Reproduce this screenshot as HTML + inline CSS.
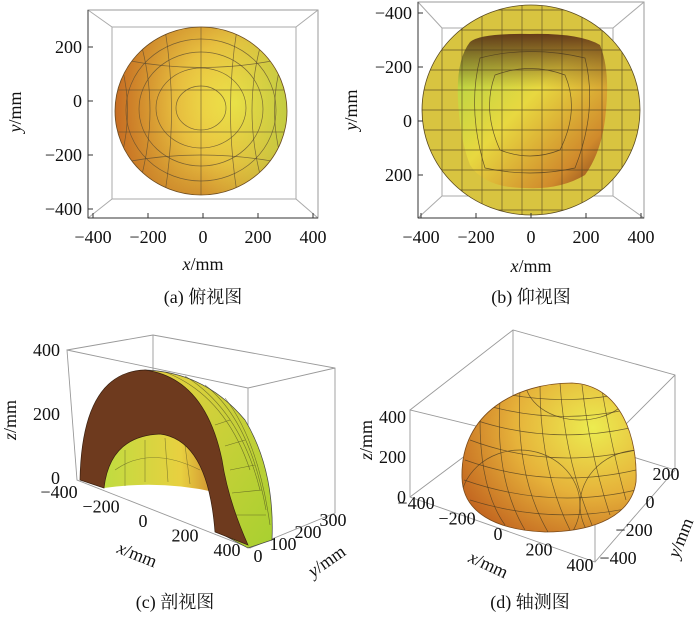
<!DOCTYPE html>
<html><head><meta charset="utf-8">
<style>
html,body{margin:0;padding:0;background:#fff;}
svg{display:block;}
text{font-family:"Liberation Serif","Noto Serif CJK SC",serif;font-size:18px;fill:#111;}
.cap{font-family:"Liberation Serif","Noto Serif CJK SC",serif;font-size:18px;}
</style></head>
<body>
<svg id="fig" width="700" height="628" viewBox="0 0 700 628">
<defs>
<radialGradient id="gA" cx="0.7" cy="0.45" r="0.8">
<stop offset="0" stop-color="#f0e84a"/><stop offset="0.45" stop-color="#e8c040"/><stop offset="1" stop-color="#b8601c"/>
</radialGradient>
<linearGradient id="gAside" x1="0" x2="1" y1="0" y2="0">
<stop offset="0" stop-color="#c86a22" stop-opacity="0.8"/><stop offset="0.5" stop-color="#e9c640" stop-opacity="0"/><stop offset="1" stop-color="#a8d040" stop-opacity="0.6"/>
</linearGradient>
<linearGradient id="gB" x1="0" x2="1" y1="0" y2="1">
<stop offset="0" stop-color="#a8d444"/><stop offset="0.45" stop-color="#e8d840"/><stop offset="0.8" stop-color="#d08a2c"/><stop offset="1" stop-color="#7a3a1a"/>
</linearGradient>
<linearGradient id="gBtop" x1="0" x2="0" y1="0" y2="1">
<stop offset="0" stop-color="#5a2a14" stop-opacity="0.9"/><stop offset="0.35" stop-color="#5a2a14" stop-opacity="0"/>
</linearGradient>
<linearGradient id="gC" x1="0" x2="1" y1="0" y2="1">
<stop offset="0" stop-color="#e8d040"/><stop offset="1" stop-color="#a8d030"/>
</linearGradient>
<linearGradient id="gCin" x1="0" x2="1" y1="0" y2="0">
<stop offset="0" stop-color="#c0dc40"/><stop offset="0.7" stop-color="#e8d040"/><stop offset="1" stop-color="#d09030"/>
</linearGradient>
<radialGradient id="gD" cx="0.75" cy="0.3" r="0.9">
<stop offset="0" stop-color="#ecec50"/><stop offset="0.5" stop-color="#e6b23a"/><stop offset="1" stop-color="#c0601e"/>
</radialGradient>
<clipPath id="clipA"><ellipse cx="201" cy="111" rx="86" ry="84"/></clipPath>
<clipPath id="clipB"><ellipse cx="531" cy="110" rx="109" ry="105"/></clipPath>
<clipPath id="clipD"><path d="M462,478 C460,412 518,383 572,383 C622,385 638,440 636,482 C630,522 582,532 545,532 C495,530 463,512 462,478 Z"/></clipPath>
</defs>

<!-- Panel (a) -->
<g>
<rect x="88" y="10" width="230" height="208" fill="none" stroke="#999" stroke-width="1"/>
<rect x="112" y="27" width="184" height="172" fill="none" stroke="#aaa" stroke-width="1"/>
<path d="M88,10L112,27M318,10L296,27M88,218L112,199M318,218L296,199" stroke="#aaa"/>
<ellipse cx="201" cy="111" rx="86" ry="84" fill="url(#gA)"/>
<ellipse cx="201" cy="111" rx="86" ry="84" fill="url(#gAside)"/>
<g clip-path="url(#clipA)" fill="none" stroke="#5a4a30" stroke-width="0.7" stroke-opacity="0.75">
<ellipse cx="201" cy="108" rx="25" ry="22"/><ellipse cx="201" cy="108" rx="45" ry="40"/><ellipse cx="201" cy="109" rx="62" ry="57"/><ellipse cx="201" cy="110" rx="75" ry="71"/>
<path d="M201,27V195M140,40Q160,110 140,182M262,40Q242,110 262,182M120,60Q135,110 120,162M282,60Q267,110 282,162M165,29Q178,110 165,193M237,29Q224,110 237,193"/>
<path d="M115,90H287M115,132H287M125,60Q201,75 277,60M125,162Q201,148 277,162"/>
</g>
<ellipse cx="201" cy="111" rx="86" ry="84" fill="none" stroke="#6a4a20" stroke-width="0.8"/>
<path d="M88,218H318" stroke="#333"/>
<path d="M88,10V218" stroke="#333"/>
<g id="a-ticks"></g>
<text x="203" y="270" text-anchor="middle"><tspan font-style="italic">x</tspan>/mm</text>
<text transform="translate(21,112) rotate(-90)" text-anchor="middle"><tspan font-style="italic">y</tspan>/mm</text>
<text class="cap" x="203" y="303" text-anchor="middle">(a) 俯视图</text>
</g>

<!-- Panel (b) -->
<g>
<rect x="418" y="2" width="226" height="216" fill="none" stroke="#999"/>
<rect x="442" y="28" width="171" height="168" fill="none" stroke="#aaa"/>
<path d="M418,2L442,28M644,2L613,28M418,218L442,196M644,218L613,196" stroke="#aaa"/>
<ellipse cx="531" cy="110" rx="109" ry="105" fill="#d8c440" stroke="#5a4a20" stroke-width="0.8"/>
<path d="M470,42 Q480,33 530,34 Q580,33 600,45 Q610,70 606,110 Q603,150 585,175 Q560,190 525,188 Q485,188 470,165 Q460,140 458,100 Q456,60 470,42 Z" fill="url(#gB)"/>
<path d="M470,42 Q480,33 530,34 Q580,33 600,45 Q610,70 606,110 Q603,150 585,175 Q560,190 525,188 Q485,188 470,165 Q460,140 458,100 Q456,60 470,42 Z" fill="url(#gBtop)"/>
<g clip-path="url(#clipB)" stroke="#4a3a20" stroke-width="0.7" stroke-opacity="0.8" fill="none">
<path id="bgrid" d=""/>
<path d="M495,75Q530,62 565,75Q580,110 560,150Q530,162 500,150Q482,110 495,75Z M480,58Q530,45 585,58Q598,110 575,168Q530,178 485,168Q467,110 480,58Z"/>
</g>
<path d="M418,218H644" stroke="#333"/>
<path d="M418,2V218" stroke="#333"/>
<g id="b-ticks"></g>
<text x="531" y="272" text-anchor="middle"><tspan font-style="italic">x</tspan>/mm</text>
<text transform="translate(357,110) rotate(-90)" text-anchor="middle"><tspan font-style="italic">y</tspan>/mm</text>
<text class="cap" x="531" y="303" text-anchor="middle">(b) 仰视图</text>
</g>

<!-- Panel (c) -->
<g>
<g stroke="#999" fill="none" stroke-width="0.9">
<path d="M67,350L153,335L335,368L335,513L250,548L77,480L67,350L248,388L335,368M248,388V548M153,335V455"/>
</g>
<path d="M145,370 Q205,372 245,420 Q275,470 272,540 L248,548 L218,532 Q222,480 190,455 Z" fill="url(#gC)" stroke="#444" stroke-width="0.7"/>
<g stroke="#4a4a20" stroke-width="0.6" stroke-opacity="0.7" fill="none">
<path d="M165,372Q225,395 250,470M185,376Q240,410 260,490M205,385Q250,420 266,510M225,398Q258,440 270,525M230,420L215,425M245,440L225,446M255,465L230,470M262,490L232,493M266,515L230,515"/>
</g>
<path d="M104,488 Q110,436 160,434 Q205,438 214,492 Q160,480 104,488 Z" fill="url(#gCin)"/>
<path d="M80,480 Q82,372 145,370 Q205,378 222,460 Q228,500 248,545 L215,532 Q208,440 160,434 Q110,436 104,488 Z" fill="#6e3a1e" stroke="#3a2010" stroke-width="0.7"/>
<g stroke="#4a4a20" stroke-width="0.6" stroke-opacity="0.6" fill="none"><path d="M115,470Q150,445 200,470M125,450L125,486M145,440L145,482M165,438L168,482M185,445L190,484"/></g>
<g id="c-ticks"></g>
<text transform="translate(16,420) rotate(-90)" text-anchor="middle"><tspan font-style="italic">z</tspan>/mm</text>
<text transform="translate(135,560) rotate(22)" text-anchor="middle"><tspan font-style="italic">x</tspan>/mm</text>
<text transform="translate(330,566) rotate(-35)" text-anchor="middle"><tspan font-style="italic">y</tspan>/mm</text>
<text class="cap" x="175" y="608" text-anchor="middle">(c) 剖视图</text>
</g>

<!-- Panel (d) -->
<g>
<g stroke="#999" fill="none" stroke-width="0.9">
<path d="M410,410L513,330L675,375L675,470L595,562L410,497L410,410L595,455L675,375M595,455V562M513,330V420M410,497L513,420L675,470"/>
</g>
<path d="M462,478 C460,412 518,383 572,383 C622,385 638,440 636,482 C630,522 582,532 545,532 C495,530 463,512 462,478 Z" fill="url(#gD)" stroke="#7a4a1a" stroke-width="0.8"/>
<g clip-path="url(#clipD)" stroke="#4a3a20" stroke-width="0.7" stroke-opacity="0.75" fill="none">
<path d="M470,440Q550,470 636,450M465,460Q550,490 636,470M464,480Q550,510 636,490M470,500Q550,525 630,508M475,420Q550,445 630,428M485,405Q555,425 625,410M500,393Q560,405 615,395"/>
<path d="M480,420Q480,490 505,525M500,400Q495,480 525,530M520,390Q515,475 548,532M540,385Q540,470 570,530M560,383Q565,460 592,525M582,385Q590,455 610,515M602,390Q612,450 626,500"/>
<ellipse cx="520" cy="505" rx="60" ry="55"/><ellipse cx="640" cy="505" rx="60" ry="55"/><ellipse cx="580" cy="380" rx="55" ry="40"/>
</g>
<g id="d-ticks"></g>
<text transform="translate(372,440) rotate(-90)" text-anchor="middle"><tspan font-style="italic">z</tspan>/mm</text>
<text transform="translate(486,570) rotate(25)" text-anchor="middle"><tspan font-style="italic">x</tspan>/mm</text>
<text transform="translate(686,540) rotate(-68)" text-anchor="middle"><tspan font-style="italic">y</tspan>/mm</text>
<text class="cap" x="530" y="608" text-anchor="middle">(d) 轴测图</text>
</g>
</svg>
<script>
const aXTicks = [-400, -200, 0, 200, 400];
const aYTicks = [200, 0, -200, -400];
const bXTicks = [-400, -200, 0, 200, 400];
const bYTicks = [-400, -200, 0, 200];
const cZTicks = [0, 200, 400];
const cXTicks = [-400, -200, 0, 200, 400];
const cYTicks = [0, 100, 200, 300];
const dZTicks = [0, 200, 400];
const dXTicks = [-400, -200, 0, 200, 400];
const dYTicks = [-400, -200, 0, 200];

const NS = 'http://www.w3.org/2000/svg';
function lab(g, x, y, s, anchor, name) {
  const t = document.createElementNS(NS, 'text');
  t.setAttribute('x', x); t.setAttribute('y', y);
  t.setAttribute('text-anchor', anchor);
  t.textContent = String(s).replace('-', '\u2212');
  
  
  g.appendChild(t);
}
function tick(g, x1, y1, x2, y2) {
  const l = document.createElementNS(NS, 'line');
  l.setAttribute('x1', x1); l.setAttribute('y1', y1); l.setAttribute('x2', x2); l.setAttribute('y2', y2);
  l.setAttribute('stroke', '#333');
  
  
  g.appendChild(l);
}
const axA = v => 203 + v * 0.275, ayA = v => 101 - v * 0.27;
let g = document.getElementById('a-ticks');
aXTicks.forEach(v => { tick(g, axA(v), 218, axA(v), 213); lab(g, axA(v), 243, v, 'middle', 'a-x-tick-label'); });
aYTicks.forEach(v => { tick(g, 88, ayA(v), 93, ayA(v)); lab(g, 82, ayA(v) + 6, v, 'end', 'a-y-tick-label'); });
const axB = v => 531 + v * 0.275, ayB = v => 121 + v * 0.27;
g = document.getElementById('b-ticks');
bXTicks.forEach(v => { tick(g, axB(v), 218, axB(v), 213); lab(g, axB(v), 243, v, 'middle', 'b-x-tick-label'); });
bYTicks.forEach(v => { tick(g, 418, ayB(v), 423, ayB(v)); lab(g, 412, ayB(v) + 6, v, 'end', 'b-y-tick-label'); });
let d = '';
for (let x = 422; x <= 640; x += 20) d += 'M' + x + ',0V220';
for (let y = 10; y <= 215; y += 20) d += 'M415,' + y + 'H650';
document.getElementById('bgrid').setAttribute('d', d);
g = document.getElementById('c-ticks');
const czY = v => 478 - v * 0.32;
cZTicks.forEach(v => lab(g, 60, czY(v) + 6, v, 'end', 'c-z-tick-label'));
const cxP = v => [148 + v * 0.21, 527 + v * 0.072];
cXTicks.forEach(v => { const p = cxP(v); lab(g, p[0] - 5, p[1], v, 'middle', 'c-x-tick-label'); });
const cyP = v => [258 + v * 0.25, 562 - v * 0.12];
cYTicks.forEach(v => { const p = cyP(v); lab(g, p[0], p[1], v, 'middle', 'c-y-tick-label'); });
g = document.getElementById('d-ticks');
const dzY = v => 497 - v * 0.2;
dZTicks.forEach(v => lab(g, 406, dzY(v) + 6, v, 'end', 'd-z-tick-label'));
const dxP = v => [498 + v * 0.205, 540 + v * 0.078];
dXTicks.forEach(v => { const p = dxP(v); lab(g, p[0], p[1], v, 'middle', 'd-x-tick-label'); });
const dyP = v => [650 + v * 0.08, 508 - v * 0.14];
dYTicks.forEach(v => { const p = dyP(v); lab(g, p[0], p[1], v, 'middle', 'd-y-tick-label'); });
</script>
</body></html>
